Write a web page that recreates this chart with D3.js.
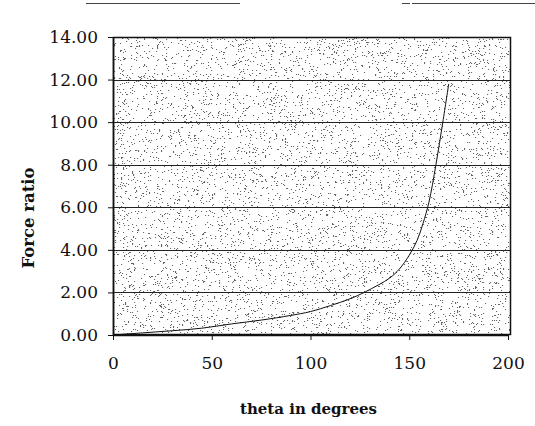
<!DOCTYPE html>
<html>
<head>
<meta charset="utf-8">
<script src="https://cdn.jsdelivr.net/npm/d3@7"></script>
<style>
  body { margin: 0; background: #fff; }
  .tick text { font-family: "DejaVu Serif", serif; font-size: 17px; fill: #111; }
  .axisText { font-family: "DejaVu Serif", serif; font-size: 15px; font-weight: bold; fill: #111; }
</style>
</head>
<body>
<div class="chart"></div>
<script>
// Force ratio vs theta chart
var svgWidth = 535;
var svgHeight = 426;

var margin = { top: 37, right: 24, bottom: 91, left: 113 };

var width = svgWidth - margin.left - margin.right;
var height = svgHeight - margin.top - margin.bottom;

// Data
var thetaValues = [0, 15, 30, 45, 60, 75, 90, 100, 110, 120, 128, 140, 145, 150, 154, 157, 160, 163.5, 167, 170];
var ratioValues = [0, 0.1, 0.2, 0.32, 0.52, 0.7, 0.92, 1.1, 1.38, 1.7, 2.04, 2.67, 3.1, 3.75, 4.45, 5.25, 6.25, 8.0, 10, 11.8];
var xTicks = [0, 50, 100, 150, 200];
var yTicks = [0, 2, 4, 6, 8, 10, 12, 14];

var svg = d3.select(".chart")
  .append("svg")
  .attr("width", svgWidth)
  .attr("height", svgHeight);

// scan artefacts at the top edge
svg.append("path")
  .attr("d", "M86,3.5H215M215,3.5H240M402,3.5H410M412,3.5H535")
  .attr("stroke", "#444")
  .attr("stroke-width", 1.2);

var chartGroup = svg.append("g")
  .attr("transform", `translate(${margin.left}, ${margin.top})`);

var xLinearScale = d3.scaleLinear()
  .domain([0, 200])
  .range([0, 395]);

var yLinearScale = d3.scaleLinear()
  .domain([0, 14])
  .range([height, 0]);

// stippled plot background (deterministic hash, decoration only)
var seed = 12345;
function nextRand() {
  seed = (seed * 1103515245 + 12345) % 2147483648;
  return seed / 2147483648;
}
var dotPath = "";
for (var i = 0; i < 7000; i++) {
  var px = Math.floor(nextRand() * (width - 2)) + 1;
  var py = Math.floor(nextRand() * (height - 2)) + 1;
  dotPath += "M" + px + "," + py + "h1.1v1.1h-1.1z";
}
chartGroup.append("path")
  .attr("d", dotPath)
  .attr("fill", "#666");

// gridlines
chartGroup.append("g")
  .selectAll("line")
  .data(yTicks.filter(d => d > 0 && d < 14))
  .enter()
  .append("line")
  .attr("x1", 0)
  .attr("x2", width)
  .attr("y1", d => Math.round(yLinearScale(d)) + 0.5)
  .attr("y2", d => Math.round(yLinearScale(d)) + 0.5)
  .attr("stroke", "#222")
  .attr("stroke-width", 1);

// frame
chartGroup.append("rect")
  .attr("x", 0.5)
  .attr("y", 0.5)
  .attr("width", width - 1)
  .attr("height", height - 1)
  .attr("fill", "none")
  .attr("stroke", "#111")
  .attr("stroke-width", 1.5);

// curve
var line = d3.line()
  .x((d, i) => xLinearScale(thetaValues[i]))
  .y(d => yLinearScale(d))
  .curve(d3.curveCatmullRom.alpha(0.5));

chartGroup.append("path")
  .datum(ratioValues)
  .attr("d", line)
  .attr("fill", "none")
  .attr("stroke", "#111")
  .attr("stroke-width", 1);

// axes
var bottomAxis = d3.axisBottom(xLinearScale).tickValues(xTicks).tickSize(5).tickSizeOuter(0).tickPadding(17);
var leftAxis = d3.axisLeft(yLinearScale).tickValues(yTicks).tickFormat(d3.format(".2f")).tickSize(5).tickSizeOuter(0).tickPadding(10);

var gx = chartGroup.append("g")
  .attr("transform", `translate(0, ${height})`)
  .call(bottomAxis);
var gy = chartGroup.append("g")
  .call(leftAxis);

[gx, gy].forEach(function (g) {
  g.attr("font-family", null).attr("font-size", null);
  g.select(".domain").attr("stroke", "#111").attr("stroke-width", 1.5);
  g.selectAll(".tick line").attr("stroke", "#111");
});

// axis labels
chartGroup.append("text")
  .attr("transform", "rotate(-90)")
  .attr("y", 28 - margin.left)
  .attr("x", -(height / 2) - 32)
  .attr("dy", "0.35em")
  .attr("text-anchor", "middle")
  .attr("class", "axisText")
  .style("font-size", "16.5px")
  .text("Force ratio");

chartGroup.append("text")
  .attr("transform", `translate(${xLinearScale(100) - 2}, ${height + 79})`)
  .attr("text-anchor", "middle")
  .attr("class", "axisText")
  .text("theta in degrees");
</script>
</body>
</html>
